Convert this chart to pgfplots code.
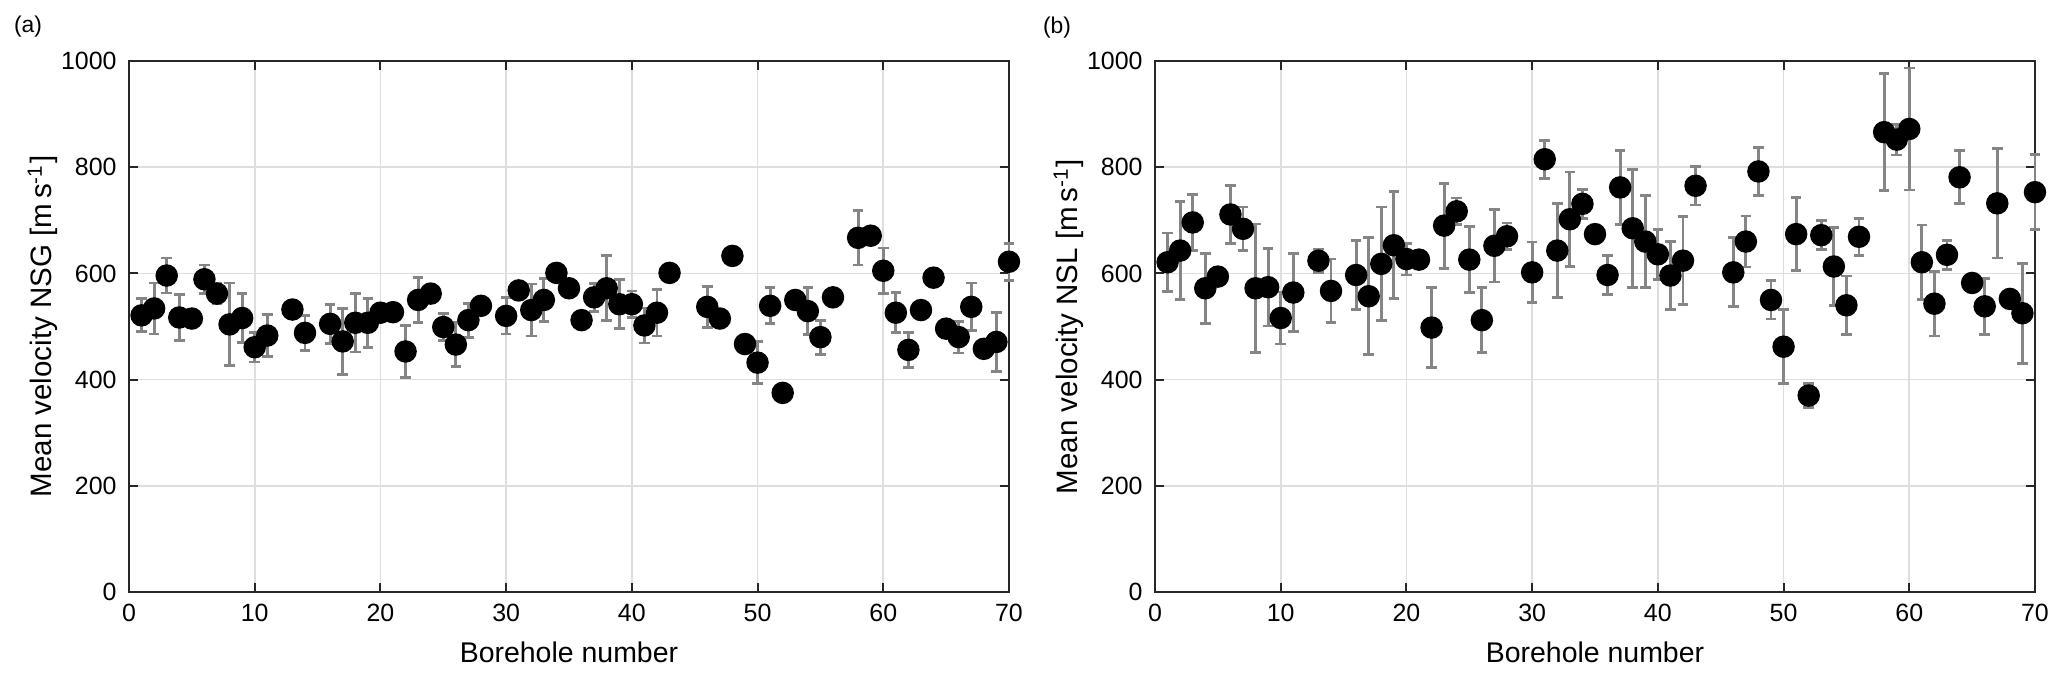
\documentclass[border=0pt]{standalone}
\usepackage{fontspec}
\setmainfont{Liberation Sans}
\usepackage{pgfplots}
\usepackage{pgfplotstable}
\pgfplotsset{compat=1.18}

\definecolor{errgray}{HTML}{858585}
\definecolor{gridgray}{HTML}{DEDEDE}

% borehole, mean velocity, error
\pgfplotstableread{
x y e
1 521 31
2 534 48
3 596 33
4 517 43
5 515 10
6 589 27
7 562 19
8 504 78
9 516 46
10 461 28
11 483 40
13 532 12
14 488 33
16 505 37
17 472 62
18 507 55
19 507 46
20 526 10
21 527 10
22 453 49
23 550 42
24 562 12
25 499 26
26 466 41
27 512 32
28 539 12
30 520 34
31 568 12
32 531 49
33 550 41
34 601 10
35 572 10
36 512 10
37 555 26
38 572 61
39 542 46
40 542 25
41 502 33
42 526 44
43 601 10
46 537 39
47 515 12
48 633 12
49 467 12
50 432 40
51 539 34
52 375 10
53 550 10
54 529 44
55 480 32
56 555 10
58 667 51
59 671 10
60 605 43
61 526 38
62 456 33
63 531 12
64 592 12
65 496 12
66 480 30
67 537 45
68 458 12
69 471 55
70 622 35
}\nsg

\pgfplotstableread{
x y e
1 621 55
2 643 92
3 696 53
4 572 66
5 594 12
6 711 54
7 684 41
8 572 121
9 574 73
10 516 49
11 564 74
13 624 22
14 567 60
16 597 65
17 557 110
18 618 107
19 653 101
20 627 30
21 626 12
22 498 75
23 690 80
24 717 25
25 626 62
26 512 61
27 652 68
28 670 25
30 602 57
31 815 36
32 643 89
33 702 89
34 731 27
35 674 12
36 597 37
37 762 70
38 685 111
39 660 86
40 636 47
41 596 64
42 624 83
43 765 36
46 602 65
47 660 48
48 792 45
49 550 36
50 462 70
51 674 69
52 370 23
53 672 27
54 613 74
55 540 55
56 669 35
58 866 110
59 852 29
60 872 115
61 621 70
62 543 61
63 635 27
64 781 50
65 582 12
66 538 53
67 732 103
68 552 12
69 525 94
70 753 71
}\nsl

\pgfplotsset{
  velax/.style={
    width=88mm, height=53.1mm, scale only axis,
    anchor=origin,
    xmin=0, xmax=70, ymin=0, ymax=1000,
    xtick={0,10,...,70}, ytick={0,200,...,1000},
    xticklabels={0,10,20,30,40,50,60,70},
    yticklabels={0,200,400,600,800,1000},
    grid=major, major grid style={gridgray, line width=0.5pt},
    axis line style={black!85, line width=0.6pt},
    tick style={black!85, line width=0.6pt},
    major tick length=0.9mm,
    every tick label/.append style={font=\fontsize{7.1}{8}\selectfont},
    xlabel={Borehole number},
    every axis x label/.style={at={(axis description cs:0.5,-0.113)}, anchor=center,
      font=\fontsize{8.1}{9}\selectfont},
    every axis y label/.style={at={(axis description cs:-0.098,0.5)}, rotate=90, anchor=center,
      font=\fontsize{8.4}{9}\selectfont},
    clip=false,
  },
  velmarks/.style={only marks, mark=*, mark size=3pt, black},
  % invisible marks, only the error bars with caps are drawn
  velerr/.style={only marks, mark=*, mark options={draw=none, fill=none},
    error bars/.cd, y dir=both, y explicit, error mark=|,
    error bar style={draw=errgray, line width=0.8pt},
    error mark options={draw=errgray, line width=0.8pt, mark size=1.5pt}},
}

\begin{document}
\begin{tikzpicture}
\path[use as bounding box] (-12.9mm,-8.8mm) rectangle (193.8mm,59.2mm);

\begin{axis}[velax, at={(0,0)},
    ylabel={Mean velocity NSG [m\,s\textsuperscript{-1}]}]
\addplot[velmarks] table[x=x, y=y] {\nsg};
\addplot[velerr] table[x=x, y=y, y error=e] {\nsg};
\end{axis}

\begin{axis}[velax, at={(102.6mm,0)},
    ylabel={Mean velocity NSL [m\,s\textsuperscript{-1}]}]
\addplot[velmarks] table[x=x, y=y] {\nsl};
\addplot[velerr] table[x=x, y=y, y error=e] {\nsl};
\end{axis}

\node[font=\fontsize{6.5}{7}\selectfont] at (-10.1mm,56.5mm) {(a)};
\node[font=\fontsize{6.5}{7}\selectfont] at (92.8mm,56.4mm) {(b)};
\end{tikzpicture}
\end{document}
